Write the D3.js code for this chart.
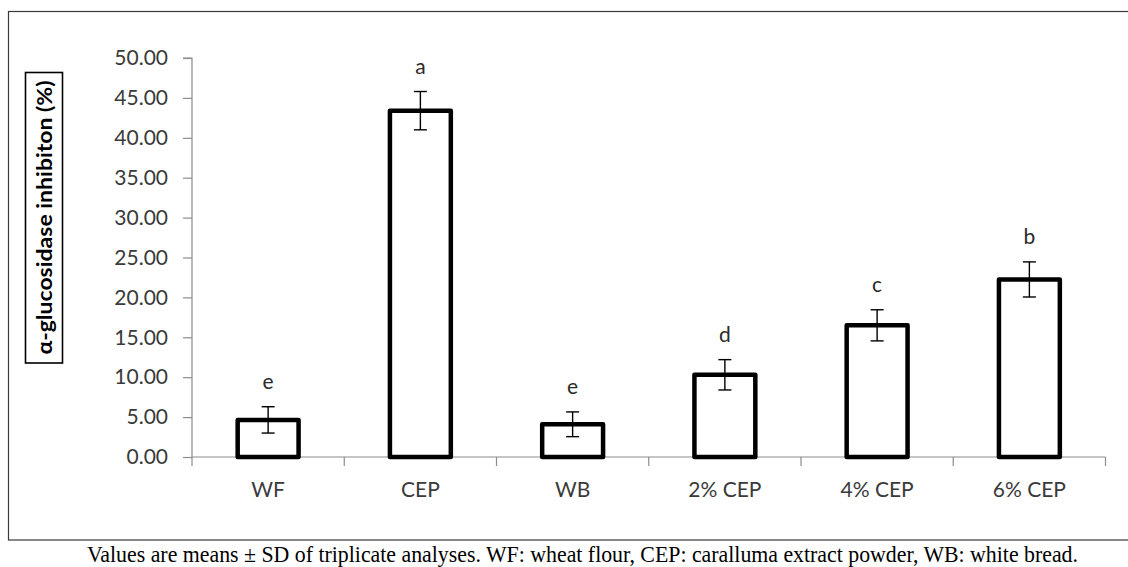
<!DOCTYPE html>
<html>
<head>
<meta charset="utf-8">
<script src="https://cdn.jsdelivr.net/npm/d3@7"></script>
<style>
  html, body { margin: 0; padding: 0; background: #fff; }
  svg { display: block; }
</style>
</head>
<body>
<svg id="chart" width="1128" height="567"></svg>
<script>
// Sample groups, mean inhibition (%), standard deviations and significance letters
const categories = ["WF", "CEP", "WB", "2% CEP", "4% CEP", "6% CEP"];
const means = [4.65, 43.4, 4.1, 10.3, 16.5, 22.25];
const sds = [1.65, 2.4, 1.55, 1.9, 1.95, 2.2];
const letters = ["e", "a", "e", "d", "c", "b"];
const yTicks = [0, 5, 10, 15, 20, 25, 30, 35, 40, 45, 50];
const yLabel = "α-glucosidase inhibiton (%)";
const caption = "Values are means ± SD of triplicate analyses. WF: wheat flour, CEP: caralluma extract powder, WB: white bread.";

const svg = d3.select("#chart");
const font = "Lato, 'Open Sans', sans-serif";

// outer frame of the chart area (open on the right, as cropped)
svg.append("rect")
  .attr("x", 8.5).attr("y", 11.5)
  .attr("width", 1130).attr("height", 528.5)
  .attr("fill", "none").attr("stroke", "#3a3a3a").attr("stroke-width", 1.2);

const plot = { left: 192, right: 1105.5, top: 58, bottom: 457 };

const x = d3.scaleBand()
  .domain(categories)
  .range([plot.left, plot.right])
  .paddingInner(0.6).paddingOuter(0.3);

// full category slots for the x tick marks
const slot = (plot.right - plot.left) / categories.length;

const y = d3.scaleLinear().domain([0, 50]).range([plot.bottom, plot.top]);

// y axis
const yAxis = d3.axisLeft(y)
  .tickValues(yTicks)
  .tickSize(9)
  .tickPadding(15)
  .tickFormat(d3.format(".2f"));

const gy = svg.append("g")
  .attr("transform", `translate(${plot.left},0)`)
  .call(yAxis);
gy.select(".domain").attr("stroke", "#8c8c8c").attr("stroke-width", 1.2)
  .attr("d", `M-9,${y(50)}H0V${y(0)}`);
gy.selectAll(".tick line").attr("stroke", "#8c8c8c").attr("stroke-width", 1.2);
gy.selectAll(".tick text")
  .attr("font-family", font).attr("font-size", 21).attr("fill", "#3a3a3a");

// x axis line with tick marks at slot boundaries
const xTickPos = d3.range(categories.length + 1).map(i => plot.left + i * slot);
svg.append("line")
  .attr("x1", plot.left).attr("x2", plot.right)
  .attr("y1", y(0)).attr("y2", y(0))
  .attr("stroke", "#8c8c8c").attr("stroke-width", 1.2);
svg.selectAll(".xtick").data(xTickPos).join("line")
  .attr("class", "xtick")
  .attr("x1", d => d).attr("x2", d => d)
  .attr("y1", y(0)).attr("y2", y(0) + 9)
  .attr("stroke", "#8c8c8c").attr("stroke-width", 1.2);

// category labels
svg.selectAll(".xlab").data(categories).join("text")
  .attr("class", "xlab")
  .attr("x", d => x(d) + x.bandwidth() / 2)
  .attr("y", 497)
  .attr("text-anchor", "middle")
  .attr("font-family", font).attr("font-size", 21).attr("fill", "#3a3a3a")
  .text(d => d);

const rows = categories.map((c, i) => ({ c, m: means[i], sd: sds[i], l: letters[i] }));

// bars
svg.selectAll(".bar").data(rows).join("rect")
  .attr("class", "bar")
  .attr("x", d => x(d.c))
  .attr("width", x.bandwidth())
  .attr("y", d => y(d.m))
  .attr("height", d => y(0) - y(d.m))
  .attr("fill", "#fff").attr("stroke", "#000").attr("stroke-width", 4.5)
  .attr("stroke-linejoin", "round");

// error bars
const cx = d => x(d.c) + x.bandwidth() / 2;
const eb = svg.append("g").attr("stroke", "#000").attr("stroke-width", 1.4);
eb.selectAll(".stem").data(rows).join("line")
  .attr("x1", cx).attr("x2", cx)
  .attr("y1", d => y(d.m + d.sd)).attr("y2", d => y(d.m - d.sd));
eb.selectAll(".capT").data(rows).join("line")
  .attr("x1", d => cx(d) - 6.5).attr("x2", d => cx(d) + 6.5)
  .attr("y1", d => y(d.m + d.sd)).attr("y2", d => y(d.m + d.sd));
eb.selectAll(".capB").data(rows).join("line")
  .attr("x1", d => cx(d) - 6.5).attr("x2", d => cx(d) + 6.5)
  .attr("y1", d => y(d.m - d.sd)).attr("y2", d => y(d.m - d.sd));

// significance letters
svg.selectAll(".sig").data(rows).join("text")
  .attr("class", "sig")
  .attr("x", cx)
  .attr("y", d => y(d.m + d.sd) - 18)
  .attr("text-anchor", "middle")
  .attr("font-family", font).attr("font-size", 21).attr("fill", "#2a2a2a")
  .text(d => d.l);

// boxed y-axis title
svg.append("rect")
  .attr("x", 25.5).attr("y", 72.5).attr("width", 37).attr("height", 290.5)
  .attr("fill", "#fff").attr("stroke", "#000").attr("stroke-width", 1.6);
svg.append("text")
  .attr("transform", "translate(51.5,217.5) rotate(-90)")
  .attr("text-anchor", "middle")
  .attr("textLength", 274).attr("lengthAdjust", "spacingAndGlyphs")
  .attr("font-family", font).attr("font-size", 21).attr("font-weight", "bold")
  .attr("fill", "#000")
  .text(yLabel);

// caption beneath the frame
svg.append("text")
  .attr("x", 87).attr("y", 562)
  .attr("textLength", 991).attr("lengthAdjust", "spacingAndGlyphs")
  .attr("font-family", "'Liberation Serif', 'DejaVu Serif', serif")
  .attr("font-size", 22.5).attr("fill", "#000")
  .text(caption);
</script>
</body>
</html>
